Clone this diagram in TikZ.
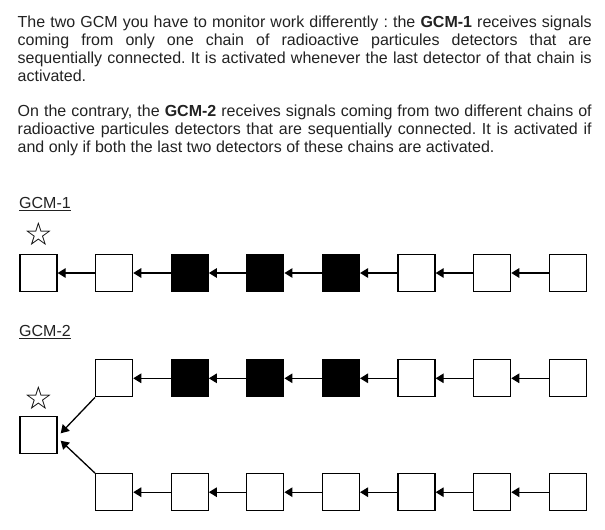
\documentclass[tikz,border=0pt]{standalone}
\usepackage{fontspec}
\setmainfont{Liberation Sans}
\newfontfamily\symfont{DejaVu Sans}
\usetikzlibrary{arrows.meta}
\definecolor{txt}{HTML}{222222}
\frenchspacing
\begin{document}
\begin{tikzpicture}[x=1pt,y=-1pt,
  det/.style={draw=black, line width=1.3pt, minimum size=37pt, inner sep=0pt, fill=white},
  hot/.style={det, fill=black},
  sig/.style={line width=1.3pt, -{Triangle[length=8pt,width=9.5pt]}},
  para/.style={anchor=base west, inner sep=0pt, align=left, text=txt,
    font=\fontsize{16}{18}\selectfont},
  lbl/.style={anchor=base west, inner sep=0pt, text=txt, font=\fontsize{16}{18}\selectfont},
  starmark/.style={inner sep=0pt, font=\symfont\fontsize{32}{32}\selectfont}]
\useasboundingbox (0,0) rectangle (605,530);

\node[para] (p1) at (17.5,81) {%
\makebox[574pt][s]{The two GCM you have to monitor work differently : the \textbf{GCM-1} receives signals}\\
\makebox[574pt][s]{coming from only one chain of radioactive particules detectors that are}\\
\makebox[574pt][s]{sequentially connected. It is activated whenever the last detector of that chain is}\\
activated.};

\node[para] (p2) at (17.5,152.3) {%
\makebox[574pt][s]{On the contrary, the \textbf{GCM-2} receives signals coming from two different chains of}\\
\makebox[574pt][s]{radioactive particules detectors that are sequentially connected. It is activated if}\\
and only if both the last two detectors of these chains are activated.};

% GCM-1
\node[lbl] (l1) at (19,208.3) {\underline{GCM-1}};
\foreach \i/\s in {0/det,1/det,2/hot,3/hot,4/hot,5/det,6/det,7/det}
  \node[\s] (a\i) at (38.5+75.6*\i,273) {};
\foreach \i in {0,...,6}{
  \pgfmathtruncatemacro{\j}{\i+1}
  \draw[sig] (a\j.west) -- (a\i.east);
}
\node[starmark] (s1) at (38.5,234) {☆};

% GCM-2
\node[lbl] (l2) at (19,336.7) {\underline{GCM-2}};
\node[det] (g) at (38.5,435.2) {};
\node[starmark] (s2) at (38.5,397.5) {☆};
\foreach \i/\s in {1/det,2/hot,3/hot,4/hot,5/det,6/det,7/det}{
  \node[\s] (u\i) at (38.5+75.6*\i,378.3) {};
  \node[det] (d\i) at (38.5+75.6*\i,492.2) {};
}
\foreach \i in {1,...,6}{
  \pgfmathtruncatemacro{\j}{\i+1}
  \draw[sig] (u\j.west) -- (u\i.east);
  \draw[sig] (d\j.west) -- (d\i.east);
}
\coordinate (inU) at (60.7,433.3);
\coordinate (inD) at (60.7,440.7);
\draw[sig] (u1.south west) -- (inU);
\draw[sig] (d1.north west) -- (inD);
\end{tikzpicture}
\end{document}
